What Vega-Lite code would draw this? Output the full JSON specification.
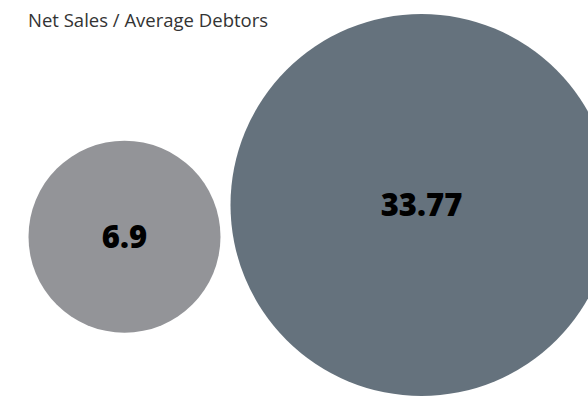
{
  "$schema": "https://vega.github.io/schema/vega-lite/v6.json",
  "width": 588,
  "height": 398,
  "autosize": {"type": "none"},
  "padding": 0,
  "background": "white",
  "title": {
    "text": "Net Sales / Average Debtors",
    "anchor": "start",
    "font": "Open Sans",
    "fontSize": 18.5,
    "fontWeight": "normal",
    "color": "#333333",
    "baseline": "alphabetic",
    "offset": 0,
    "dx": 28,
    "dy": 45
  },
  "config": {"view": {"stroke": null}},
  "data": {
    "values": [
      {"metric": "Previous", "value": 6.9},
      {"metric": "Current", "value": 33.77}
    ]
  },
  "encoding": {
    "x": {"field": "value", "type": "quantitative", "axis": null, "scale": {"domain": [6.9, 33.77], "range": [124.5, 421.5]}},
    "y": {"field": "value", "type": "quantitative", "axis": null, "scale": {"domain": [6.9, 33.77], "range": [236.7, 205]}}
  },
  "layer": [
    {
      "mark": {"type": "circle", "opacity": 1},
      "encoding": {
        "size": {"field": "value", "type": "quantitative", "legend": null, "scale": {"domain": [6.9, 33.77], "range": [36864, 145924]}},
        "color": {"field": "metric", "type": "nominal", "legend": null, "scale": {"domain": ["Previous", "Current"], "range": ["#939498", "#65727D"]}}
      }
    },
    {
      "mark": {"type": "text", "font": "Open Sans", "fontWeight": 800, "fontSize": 31, "color": "#000000", "baseline": "middle", "align": "center", "dy": 2},
      "encoding": {
        "text": {"field": "value", "type": "quantitative"}
      }
    }
  ]
}
